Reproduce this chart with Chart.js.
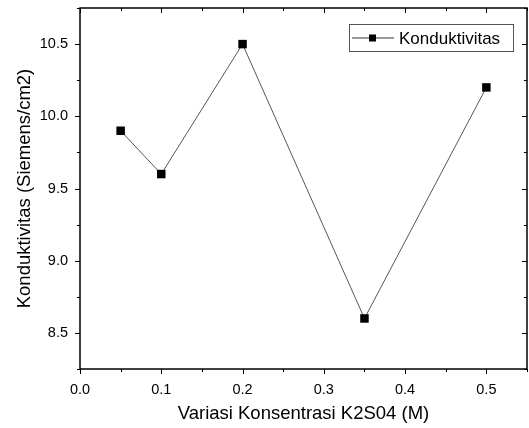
<!DOCTYPE html>
<html>
<head>
<meta charset="utf-8">
<script src="https://cdn.jsdelivr.net/npm/chart.js@4/dist/chart.umd.min.js"></script>
<style>
  html, body { margin: 0; padding: 0; background: #fff; }
  #wrap { width: 529px; height: 428px; }
</style>
</head>
<body>
<div id="wrap"><canvas id="c" width="529" height="428"></canvas></div>
<script>
/* ── data ── */
const konsentrasi = [0.05, 0.1, 0.2, 0.35, 0.5];
const konduktivitas = [9.9, 9.6, 10.5, 8.6, 10.2];
const xTicks = [0.0, 0.1, 0.2, 0.3, 0.4, 0.5];
const yTicks = [8.5, 9.0, 9.5, 10.0, 10.5];

const FONT = 'Arial, "Liberation Sans", sans-serif';

// ticks on all four sides + box, Origin style
const frameTicks = {
    id: 'frameTicks',
    afterDraw(chart) {
        const { ctx, chartArea: a, scales: { x, y } } = chart;
        ctx.save();
        ctx.strokeStyle = '#000';
        ctx.lineWidth = 1.5;
        ctx.strokeRect(a.left, a.top, a.right - a.left, a.bottom - a.top);
        ctx.lineWidth = 1;
        ctx.beginPath();
        for (let v = 0; v <= x.max + 1e-9; v += 0.05) {
            const px = Math.round(x.getPixelForValue(v)) + 0.5;
            const major = Math.abs(v * 10 - Math.round(v * 10)) < 1e-6;
            const len = major ? 5 : 3;
            ctx.moveTo(px, a.bottom); ctx.lineTo(px, a.bottom + len);
            ctx.moveTo(px, a.top); ctx.lineTo(px, a.top + len);
        }
        for (let v = 8.25; v <= y.max + 1e-9; v += 0.25) {
            const py = Math.round(y.getPixelForValue(v)) + 0.5;
            const major = Math.abs(v * 2 - Math.round(v * 2)) < 1e-6;
            const len = major ? 5 : 3;
            ctx.moveTo(a.left, py); ctx.lineTo(a.left - len, py);
            ctx.moveTo(a.right, py); ctx.lineTo(a.right - len, py);
        }
        ctx.stroke();

        // legend box
        const lx = 349, ly = 24, lw = 164, lh = 27;
        ctx.fillStyle = '#fff';
        ctx.fillRect(lx, ly, lw, lh);
        ctx.strokeStyle = '#555';
        ctx.strokeRect(lx + 0.5, ly + 0.5, lw, lh);
        const cy = ly + lh / 2 + 0.5;
        ctx.strokeStyle = '#333';
        ctx.beginPath();
        ctx.moveTo(lx + 3, cy); ctx.lineTo(lx + 45, cy);
        ctx.stroke();
        ctx.fillStyle = '#000';
        ctx.fillRect(lx + 20, cy - 3.5, 7, 7);
        ctx.font = '17px ' + FONT;
        ctx.textBaseline = 'middle';
        ctx.fillText(chart.data.datasets[0].label, lx + 50, cy + 1);
        ctx.restore();
    }
};

new Chart(document.getElementById('c'), {
    type: 'line',
    data: {
        datasets: [{
            label: 'Konduktivitas',
            data: konsentrasi.map((k, i) => ({ x: k, y: konduktivitas[i] })),
            borderColor: '#555',
            borderWidth: 1,
            pointStyle: 'rect',
            pointRadius: 6,
            pointBorderWidth: 0,
            pointBackgroundColor: '#000',
            tension: 0,
        }],
    },
    options: {
        responsive: false,
        animation: false,
        layout: { autoPadding: false, padding: { top: 8, right: 2, left: 0, bottom: 0 } },
        plugins: {
            legend: { display: false },
            tooltip: { enabled: false },
        },
        scales: {
            x: {
                type: 'linear',
                min: 0, max: 0.55,
                afterBuildTicks: s => { s.ticks = xTicks.map(v => ({ value: v })); },
                afterFit: s => { s.height = 59; s.paddingLeft = 0; s.paddingRight = 0; },
                grid: { display: false, drawTicks: false },
                border: { display: false },
                ticks: {
                    color: '#000', padding: 12,
                    font: { family: FONT, size: 14.5 },
                    callback: v => v.toFixed(1),
                    maxRotation: 0,
                },
                title: {
                    display: true, text: 'Variasi Konsentrasi K2S04 (M)',
                    color: '#000', font: { family: FONT, size: 18.5 },
                    padding: { top: 6, bottom: 3 },
                },
            },
            y: {
                min: 8.25, max: 10.75,
                afterBuildTicks: s => { s.ticks = yTicks.map(v => ({ value: v })); },
                afterFit: s => { s.width = 80; s.paddingTop = 0; s.paddingBottom = 0; },
                grid: { display: false, drawTicks: false },
                border: { display: false },
                ticks: {
                    color: '#000', padding: 12,
                    font: { family: FONT, size: 14.5 },
                    callback: v => v.toFixed(1),
                },
                title: {
                    display: true, text: 'Konduktivitas (Siemens/cm2)',
                    color: '#000', font: { family: FONT, size: 18.5 },
                    padding: { top: 14, bottom: 4 },
                },
            },
        },
    },
    plugins: [frameTicks],
});
</script>
</body>
</html>
